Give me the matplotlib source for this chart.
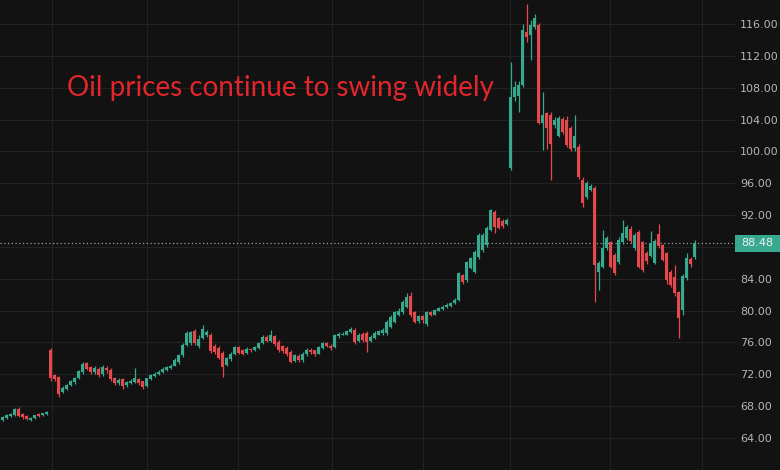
import matplotlib
matplotlib.use("Agg")
import matplotlib.pyplot as plt
from matplotlib.patches import Rectangle
import matplotlib.transforms as mtransforms

# ---- data: daily candles (open, high, low, close) ----
opens = [66.3, 66.5, 66.8, 66.9, 67.7, 67.0, 66.8, 66.2, 66.5, 67.0, 66.9, 67.0,
         75.0, 71.9, 71.7, 69.8, 70.2, 70.6, 71.0, 71.5, 72.3, 73.4, 72.9, 72.3,
         72.7, 72.0, 72.8, 72.6, 71.6, 70.9, 71.4, 70.6, 70.9, 71.0, 71.4, 71.1,
         70.5, 71.4, 71.8, 72.0, 72.3, 72.6, 72.8, 73.1, 73.5, 74.4, 75.7, 75.9,
         77.5, 75.5, 76.6, 76.9, 77.0, 75.6, 75.3, 74.7, 73.2, 73.9, 74.6, 75.4,
         75.0, 74.7, 75.2, 75.0, 75.3, 75.9, 76.7, 76.2, 76.8, 76.1, 75.5, 75.3,
         74.8, 73.7, 74.3, 73.8, 74.5, 75.1, 75.0, 74.6, 75.3, 75.9, 75.6, 75.4,
         76.8, 77.0, 77.0, 77.3, 77.6, 76.2, 77.1, 77.2, 76.2, 76.6, 77.0, 77.2,
         77.2, 78.0, 78.6, 79.5, 79.8, 80.5, 81.9, 79.8, 78.7, 79.3, 78.3, 79.8,
         79.5, 80.0, 80.2, 80.4, 80.6, 80.9, 81.3, 84.5, 83.8, 85.4, 84.9, 86.7,
         87.6, 88.2, 90.1, 92.4, 91.6, 91.3, 90.9, 97.9, 106.8, 107.0, 108.3, 115.0,
         114.6, 115.6, 115.9, 103.6, 104.8, 104.6, 103.3, 102.0, 104.1, 104.0, 103.0, 100.4,
         100.5, 96.4, 94.3, 95.2, 95.4, 84.9, 85.5, 87.9, 88.6, 87.0, 86.1, 88.6,
         89.1, 90.3, 87.9, 89.9, 88.6, 87.3, 86.9, 86.0, 89.6, 88.2, 87.2, 84.9,
         84.2, 82.3, 80.1, 84.1, 86.5, 86.7]
highs = [66.8, 67.0, 67.2, 67.8, 67.9, 67.1, 66.9, 66.6, 66.9, 67.1, 67.2, 67.4,
         75.3, 72.0, 71.8, 70.5, 70.8, 71.3, 71.7, 72.6, 73.6, 73.6, 73.0, 73.0,
         72.9, 73.2, 73.0, 72.8, 71.7, 71.5, 71.6, 71.2, 71.4, 72.8, 71.6, 71.2,
         71.6, 72.0, 72.3, 72.5, 72.9, 73.1, 73.3, 74.0, 74.6, 75.9, 77.5, 77.5,
         77.7, 76.9, 78.2, 77.6, 77.2, 75.8, 75.5, 74.9, 74.2, 74.8, 75.6, 75.6,
         75.2, 75.4, 75.3, 75.6, 76.1, 76.9, 76.9, 77.6, 77.0, 76.3, 75.7, 75.5,
         75.0, 74.6, 74.5, 74.8, 75.3, 75.3, 75.1, 75.6, 76.1, 76.0, 75.8, 77.1,
         77.3, 77.3, 77.6, 78.0, 77.8, 77.2, 77.3, 77.4, 76.9, 77.4, 77.6, 77.8,
         78.8, 79.4, 80.0, 80.3, 81.3, 82.2, 82.3, 80.0, 79.5, 79.5, 80.0, 80.0,
         80.2, 80.5, 80.7, 80.9, 81.1, 81.6, 84.9, 84.6, 86.3, 86.8, 87.6, 89.7,
         89.7, 90.6, 92.8, 92.6, 91.8, 91.5, 91.6, 111.2, 108.8, 108.8, 116.0, 118.5,
         116.5, 117.3, 116.2, 107.5, 105.0, 104.9, 104.3, 104.4, 104.3, 104.5, 103.2, 104.6,
         101.0, 96.8, 96.3, 95.9, 95.6, 86.3, 90.1, 89.4, 88.8, 87.2, 89.2, 91.4,
         90.8, 90.6, 89.8, 90.1, 88.8, 87.5, 90.0, 89.0, 90.9, 88.4, 87.4, 85.1,
         85.7, 82.5, 84.6, 87.2, 86.8, 88.9]
lows = [66.1, 66.4, 66.7, 66.8, 66.7, 66.4, 66.2, 66.1, 66.4, 66.7, 66.8, 66.9,
        71.2, 71.2, 69.2, 69.6, 70.0, 70.5, 70.8, 71.4, 72.1, 72.5, 72.1, 72.0,
        71.7, 71.8, 72.2, 71.2, 70.6, 70.7, 70.2, 70.4, 70.8, 70.9, 70.7, 70.2,
        70.4, 71.3, 71.7, 71.9, 72.2, 72.4, 72.7, 73.0, 73.3, 74.2, 75.5, 75.7,
        75.7, 75.3, 76.4, 76.7, 74.7, 74.6, 73.9, 71.7, 73.0, 73.7, 74.4, 74.5,
        74.4, 74.5, 74.8, 74.9, 75.2, 75.8, 76.0, 76.0, 75.6, 74.8, 74.7, 74.3,
        73.4, 73.5, 73.6, 73.6, 74.3, 74.6, 74.3, 74.5, 75.2, 75.4, 75.1, 75.3,
        76.6, 76.9, 76.9, 77.2, 75.8, 76.0, 76.1, 74.8, 76.0, 76.5, 76.9, 77.0,
        77.0, 77.8, 78.4, 79.3, 79.6, 80.3, 79.2, 78.4, 78.5, 78.5, 78.1, 79.3,
        79.4, 79.9, 80.1, 80.3, 80.5, 80.8, 81.2, 83.4, 83.6, 85.2, 84.7, 86.5,
        87.4, 88.0, 90.0, 89.8, 90.2, 90.4, 90.8, 97.7, 106.3, 105.0, 108.1, 113.8,
        111.5, 115.4, 103.4, 100.2, 100.3, 96.4, 103.0, 101.8, 102.2, 100.6, 100.0, 100.0,
        96.5, 93.0, 94.0, 95.0, 81.1, 82.6, 85.3, 87.6, 85.3, 84.5, 85.9, 88.4,
        88.9, 88.5, 87.6, 85.3, 84.9, 85.9, 86.7, 85.8, 87.9, 86.2, 83.4, 83.0,
        81.8, 76.6, 79.5, 83.8, 85.5, 86.5]
closes = [66.6, 66.9, 67.0, 67.6, 66.8, 66.6, 66.4, 66.5, 66.9, 66.8, 67.1, 67.3,
          71.5, 71.4, 69.5, 70.3, 70.7, 71.1, 71.5, 72.4, 73.3, 72.7, 72.3, 72.8,
          71.9, 72.9, 72.5, 71.4, 70.9, 71.3, 70.5, 71.0, 71.2, 71.5, 70.9, 70.4,
          71.5, 71.9, 72.1, 72.3, 72.7, 72.9, 73.1, 73.8, 74.4, 75.7, 77.2, 77.3,
          75.9, 76.5, 77.7, 77.3, 74.9, 74.8, 74.1, 72.9, 74.0, 74.6, 75.4, 74.7,
          74.6, 75.2, 75.0, 75.4, 75.9, 76.7, 76.2, 77.0, 75.8, 75.0, 74.9, 74.5,
          73.6, 74.4, 73.8, 74.6, 75.1, 74.8, 74.5, 75.4, 75.9, 75.6, 75.3, 76.9,
          77.1, 77.1, 77.4, 77.7, 76.0, 77.0, 76.3, 76.1, 76.7, 77.2, 77.4, 77.6,
          78.6, 79.2, 79.8, 80.0, 81.1, 81.7, 79.5, 78.6, 79.3, 78.8, 79.8, 79.4,
          80.1, 80.3, 80.5, 80.7, 80.9, 81.4, 84.7, 83.6, 86.1, 86.6, 87.4, 89.5,
          89.5, 90.4, 92.6, 90.5, 90.4, 90.6, 91.4, 106.8, 108.1, 108.3, 115.3, 114.4,
          115.9, 116.8, 103.6, 104.6, 103.0, 101.0, 104.0, 104.2, 102.5, 100.8, 100.3, 102.0,
          96.8, 93.5, 96.0, 95.6, 85.7, 86.0, 87.9, 89.1, 85.5, 84.7, 88.9, 89.8,
          90.5, 88.7, 89.5, 85.5, 85.1, 86.2, 88.5, 88.7, 88.1, 86.4, 83.8, 83.2,
          82.2, 79.1, 84.3, 86.6, 85.8, 88.48]

month_starts = [12.25, 36, 58.75, 82.25, 105, 126.75, 151.75, 174.75]
price_ticks = [64, 68, 72, 76, 80, 84, 88, 92, 96, 100, 104, 108, 112, 116]
last_price = closes[-1]
title = "Oil prices continue to swing widely"

# ---- style ----
BG = "#121212"
UP = "#36a98e"
DOWN = "#e5484d"
GRID = "#222222"

fig = plt.figure(figsize=(7.8, 4.7), dpi=100, facecolor=BG)
ax = fig.add_axes([0, 0, 735 / 780, 1])
ax.set_facecolor(BG)

idx = list(range(len(closes)))
colors = [UP if c >= o else DOWN for o, c in zip(opens, closes)]
bottoms = [min(o, c) for o, c in zip(opens, closes)]
heights = [max(abs(c - o), 0.12) for o, c in zip(opens, closes)]

ax.vlines(idx, lows, highs, colors=colors, linewidth=0.9, zorder=3)
ax.bar(idx, heights, bottom=bottoms, width=0.75, color=colors, linewidth=0, zorder=4)

ax.set_xlim(-0.75, 183)
ax.set_ylim(59.98, 119.03)

ax.set_xticks(month_starts)
ax.set_yticks(price_ticks)
ax.grid(True, color=GRID, linewidth=0.8, zorder=0)
ax.tick_params(axis="x", length=0, labelbottom=False)
ax.yaxis.tick_right()
ax.tick_params(axis="y", length=0, pad=3.5, labelsize=8, labelcolor="#b5b5b5")
# the 88 label is hidden behind the last-price tag, as in the reference
ax.set_yticklabels(["" if abs(v - last_price) < 2 else f"{v:.2f}" for v in price_ticks])
for s in ax.spines.values():
    s.set_visible(False)

# last price line and label
ax.axhline(last_price, color="#9a9a9a", linestyle=(0, (1, 2)), linewidth=0.9, zorder=2)
trans = mtransforms.blended_transform_factory(ax.transAxes, ax.transData)
ax.add_patch(Rectangle((1.0, last_price - 1.05), 0.07, 2.1, transform=trans,
                       facecolor=UP, edgecolor="none", clip_on=False, zorder=5))
ax.text(1.0 + 6 / 735, last_price, f"{last_price:.2f}", transform=trans,
        ha="left", va="center", fontsize=8, color="#f0f0f0", zorder=6, clip_on=False)

# headline
fig.text(67 / 780, 1 - 88 / 470, title, fontsize=20, family="Lato",
         color="#e3262b", ha="left", va="center")

fig.savefig("out.png", dpi=100, facecolor=BG)
